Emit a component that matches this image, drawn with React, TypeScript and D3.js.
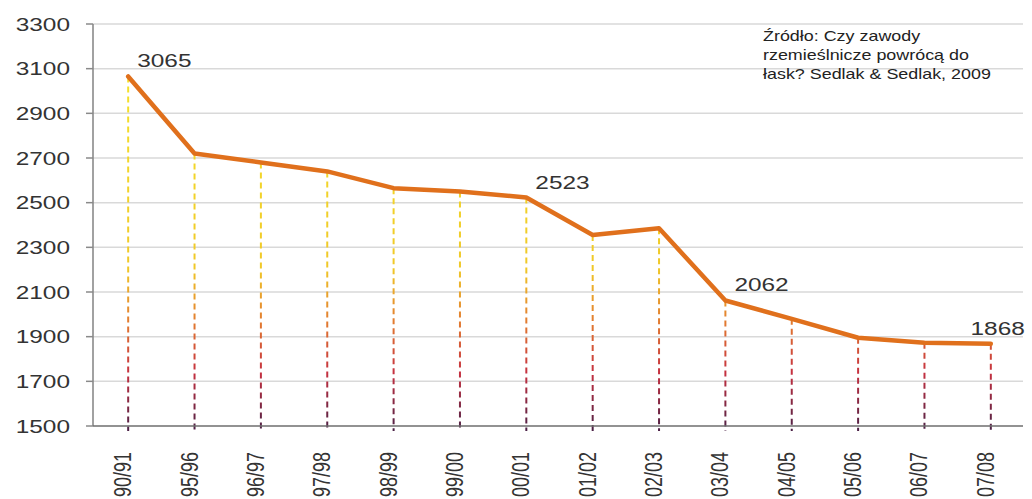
import * as React from "react";
import * as d3 from "d3";

const seasons = ["90/91", "95/96", "96/97", "97/98", "98/99", "99/00", "00/01", "01/02", "02/03", "03/04", "04/05", "05/06", "06/07", "07/08"];
const counts = [3065, 2720, 2680, 2640, 2565, 2550, 2523, 2355, 2385, 2062, 1980, 1895, 1873, 1868];
const labelled = ["90/91", "00/01", "03/04", "07/08"];
const yTicks = [1500, 1700, 1900, 2100, 2300, 2500, 2700, 2900, 3100, 3300];
const sourceLines = ["Źródło: Czy zawody", "rzemieślnicze powrócą do", "łask? Sedlak & Sedlak, 2009"];

const W = 1032;
const H = 499;
const SX = 1.32; // source image is stretched horizontally

const App: React.FC = () => {
    const svgRef = React.useRef<SVGSVGElement | null>(null);

    React.useEffect(() => {
        if (!svgRef.current) return;
        const svg = d3.select(svgRef.current);
        svg.selectAll("*").remove();

        const left = 93, right = 1023, top = 24, bottom = 426;

        const x = d3.scalePoint<string>().domain(seasons).range([95, 1024]).padding(0.5);
        const y = d3.scaleLinear().domain([1500, 3300]).range([bottom, top]);

        const defs = svg.append("defs");
        const grad = defs.append("linearGradient")
            .attr("id", "drop")
            .attr("gradientUnits", "userSpaceOnUse")
            .attr("x1", 0).attr("x2", 0)
            .attr("y1", 70).attr("y2", bottom + 5);
        [
            [0, "#f4e32c"],
            [0.55, "#f0c828"],
            [0.7, "#e27a30"],
            [0.84, "#c53040"],
            [1, "#4a2146"],
        ].forEach(([o, c]) => grad.append("stop").attr("offset", o as number).attr("stop-color", c as string));

        // grid
        svg.append("g").selectAll("line")
            .data(yTicks.filter(t => t !== 1500))
            .enter().append("line")
            .attr("x1", left).attr("x2", right)
            .attr("y1", d => y(d)).attr("y2", d => y(d))
            .attr("stroke", "#d9d9d9").attr("stroke-width", 1.5);

        // drop lines
        svg.append("g").selectAll("line")
            .data(seasons)
            .enter().append("line")
            .attr("x1", d => x(d)!).attr("x2", d => x(d)!)
            .attr("y1", (d, i) => y(counts[i]))
            .attr("y2", bottom + 5)
            .attr("stroke", "url(#drop)")
            .attr("stroke-width", 2)
            .attr("stroke-dasharray", "6,4");

        // axes
        svg.append("line")
            .attr("x1", left).attr("x2", left).attr("y1", top).attr("y2", bottom)
            .attr("stroke", "#8a8a8a").attr("stroke-width", 1.6);
        svg.append("line")
            .attr("x1", left).attr("x2", right).attr("y1", bottom).attr("y2", bottom)
            .attr("stroke", "#6e6e6e").attr("stroke-width", 1.6);

        const yAxis = svg.append("g");
        yAxis.selectAll("line")
            .data(yTicks)
            .enter().append("line")
            .attr("x1", left - 7).attr("x2", left)
            .attr("y1", d => y(d)).attr("y2", d => y(d))
            .attr("stroke", "#8a8a8a").attr("stroke-width", 1.5);
        yAxis.selectAll("text")
            .data(yTicks)
            .enter().append("text")
            .attr("transform", d => `translate(70,${y(d) + 6.5}) scale(${SX},1)`)
            .attr("text-anchor", "end")
            .attr("font-family", "Liberation Sans, Arial, sans-serif")
            .attr("font-size", 18.5)
            .attr("fill", "#333")
            .text(d => d);

        // x labels
        svg.append("g").selectAll("text")
            .data(seasons)
            .enter().append("text")
            .attr("transform", d => `translate(${x(d)! + 3},452) scale(${SX},1) rotate(-90)`)
            .attr("text-anchor", "end")
            .attr("font-family", "Liberation Sans, Arial, sans-serif")
            .attr("font-size", 18)
            .attr("fill", "#333")
            .text(d => d);

        // line
        const line = d3.line<number>()
            .x((d, i) => x(seasons[i])!)
            .y(d => y(d));
        svg.append("path")
            .datum(counts)
            .attr("d", line)
            .attr("fill", "none")
            .attr("stroke", "#e0701c")
            .attr("stroke-width", 4.5)
            .attr("stroke-linejoin", "round")
            .attr("stroke-linecap", "round");

        // value labels
        svg.append("g").selectAll("text")
            .data(seasons.map((s, i) => ({ s, v: counts[i] })).filter(d => labelled.includes(d.s)))
            .enter().append("text")
            .attr("transform", (d, i, n) => {
                const last = d.s === seasons[seasons.length - 1];
                const px = last ? x(d.s)! + 34 : x(d.s)! + 9;
                return `translate(${px},${y(d.v) - 9}) scale(${SX},1)`;
            })
            .attr("text-anchor", d => d.s === seasons[seasons.length - 1] ? "end" : "start")
            .attr("font-family", "Liberation Sans, Arial, sans-serif")
            .attr("font-size", 18.5)
            .attr("fill", "#333")
            .text(d => d.v);

        // source note
        svg.append("g").selectAll("text")
            .data(sourceLines)
            .enter().append("text")
            .attr("transform", (d, i) => `translate(763,${41 + i * 19}) scale(1.28,1)`)
            .attr("font-family", "Liberation Sans, Arial, sans-serif")
            .attr("font-size", 14)
            .attr("fill", "#222")
            .text(d => d);
    }, []);

    return (
        <div style={{ position: "absolute", left: 0, top: 0, background: "#fff" }}>
            <svg ref={svgRef} width={W} height={H} style={{ display: "block" }} />
        </div>
    );
};

export default App;
